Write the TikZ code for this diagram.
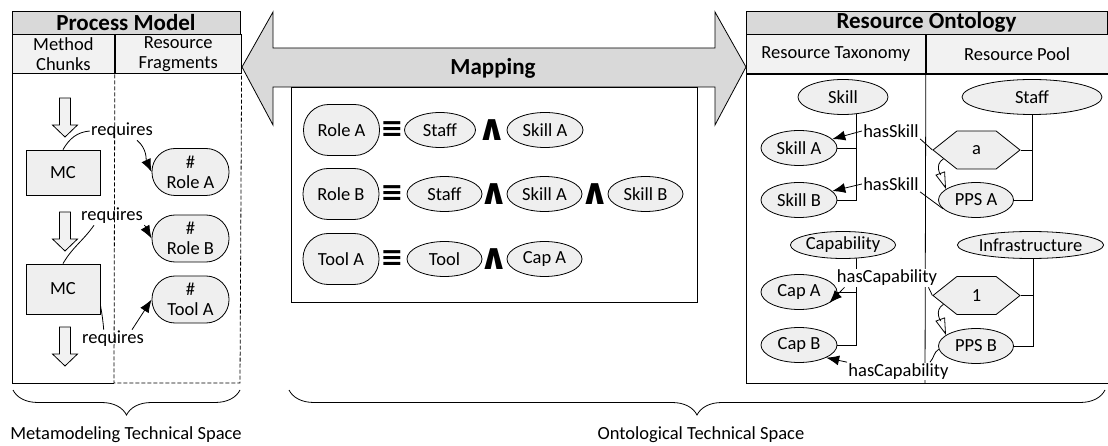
\documentclass[tikz,border=0pt]{standalone}
\usepackage{fontspec}
\setmainfont{Carlito}
\newfontfamily\symfont{DejaVu Sans}
\usetikzlibrary{positioning,shapes.geometric,shapes.symbols,arrows.meta,decorations.pathreplacing,backgrounds}
\definecolor{titlegray}{HTML}{D9D9D9}
\definecolor{paneshade}{HTML}{F2F2F2}
\definecolor{nodeshade}{HTML}{EFEFEF}

\begin{document}
\begin{tikzpicture}[x=1pt,y=1pt,line width=0.8pt,on grid,
  font=\fontsize{18.5}{20}\selectfont,
  titlebar/.style={draw,fill=titlegray,inner sep=0pt,minimum height=23.5pt,font=\fontsize{23}{24}\selectfont\bfseries},
  headcell/.style={draw,fill=paneshade,inner sep=0pt,minimum height=39pt,align=center},
  concept/.style={draw,ellipse,fill=nodeshade,inner sep=0pt,minimum width=76pt,minimum height=35pt},
  fragment/.style={draw,rounded corners=23pt,fill=nodeshade,inner sep=0pt,minimum width=77pt,minimum height=47pt,align=center},
  chunk/.style={draw,fill=nodeshade,inner sep=0pt,minimum width=74pt,minimum height=46pt},
  instance/.style={draw,signal,signal to=west and east,signal pointer angle=77,fill=nodeshade,inner sep=0pt,minimum width=87pt,minimum height=38pt},
  rel/.style={inner sep=1pt},
  relarrow/.style={-{Latex[length=13pt,width=10pt]}},
  instof/.style={-{Triangle[open,length=17pt,width=10pt]}},
  flowarrow/.style={draw,fill=paneshade},
  op/.style={inner sep=0pt,font=\symfont\fontsize{36}{36}\selectfont\bfseries},
  eqop/.style={inner sep=0pt,font=\symfont\fontsize{27}{27}\selectfont\bfseries},
  spacebrace/.style={decorate,decoration={brace,mirror,amplitude=25pt}}
]
\useasboundingbox (0,0) rectangle (1108,-446);

% process model
\node[titlebar,minimum width=228pt] (pmtitle) at (126,-22.75) {Process Model};
\node[headcell,minimum width=102pt,anchor=north west] (mchead) at (12,-34.5) {Method\\Chunks};
\node[headcell,minimum width=126pt,anchor=north west] (rfhead) at (mchead.north east) {Resource\\Fragments};
\draw (mchead.south west) -- (12,-383) -- (114,-383);
\draw[dash pattern=on 4pt off 2pt] (mchead.south east) -- (114,-383) -- (240,-383) -- (rfhead.south east);

\foreach \ytop in {98,212,327}
  \draw[flowarrow] (59.5,-\ytop) -- ++(11,0) -- ++(0,-27) -- ++(7,0) -- ++(-12.5,-12) -- ++(-12.5,12) -- ++(7,0) -- cycle;

\node[chunk,minimum height=45pt] (mc1) at (63,-172.5) {MC};
\node[chunk,minimum height=50pt] (mc2) at (63,-289) {MC};
\node[fragment] (rolea) at (190.5,-172) {\#\\Role A};
\node[fragment] (roleb) at (190.5,-238.5) {\#\\Role B};
\node[fragment] (toola) at (190.5,-299.5) {\#\\Tool A};

\node[rel] (req1) at (122,-131) {requires};
\node[rel] (req2) at (112,-216) {requires};
\node[rel] (req3) at (113,-339) {requires};
\draw (mc1.north) to[out=60,in=185] (req1.west);
\draw[relarrow] ([xshift=15pt]req1.south) to[out=-40,in=115] (rolea.west);
\draw (mc2.north) to[out=60,in=235] ([xshift=-18pt]req2.south);
\draw[relarrow] (req2.south east) to[out=-30,in=120] (roleb.west);
\draw ([yshift=-16pt]mc2.east) to[out=-80,in=95] ([xshift=23pt]req3.north west);
\draw[relarrow] ([xshift=19pt]req3.north) -- (toola.west);

% mapping
\node[draw,minimum width=406pt,minimum height=215pt,inner sep=0pt] (mapbox) at (494,-194.5) {};
\draw[fill=titlegray] (242,-67) -- (273,-12) -- (273,-48) -- (715,-48) -- (715,-12) -- (746,-67)
  -- (715,-125) -- (715,-87) -- (273,-87) -- (273,-125) -- cycle;
\node[font=\fontsize{23}{24}\selectfont\bfseries] (mapping) at (493,-68) {Mapping};

\node[fragment,minimum width=76pt,minimum height=51pt,rounded corners=25pt] (mrolea) at (341.5,-130) {Role A};
\node[eqop,right=50.5pt of mrolea] (eqa) {≡};
\node[concept,minimum width=71pt,right=48pt of eqa] (mstaffa) {Staff};
\node[op,right=52pt of mstaffa] (anda) {∧};
\node[concept,right=53pt of anda] (mskilla) {Skill A};

\node[fragment,minimum width=76pt,minimum height=51pt,rounded corners=25pt] (mroleb) at (341,-194) {Role B};
\node[eqop,right=51pt of mroleb] (eqb) {≡};
\node[concept,minimum width=75pt,right=52.5pt of eqb] (mstaffb) {Staff};
\node[op,right=50pt of mstaffb] (andb) {∧};
\node[concept,minimum width=75pt,right=50pt of andb] (mskillab) {Skill A};
\node[op,right=50.5pt of mskillab] (andc) {∧};
\node[concept,minimum width=75pt,right=50.5pt of andc] (mskillb) {Skill B};

\node[fragment,minimum width=76pt,minimum height=51pt,rounded corners=25pt] (mtoola) at (341,-259) {Tool A};
\node[eqop,right=51pt of mtoola] (eqc) {≡};
\node[concept,minimum width=75pt,right=52.5pt of eqc] (mtool) {Tool};
\node[op,right=50pt of mtool] (andd) {∧};
\node[concept,minimum width=75pt,right=50pt of andd] (mcapa) {Cap A};

% resource ontology
\node[titlebar,minimum width=361pt] (rotitle) at (926.5,-22.75) {Resource Ontology};
\node[headcell,minimum width=179pt,anchor=north west] (rthead) at (746,-34.5) {Resource Taxonomy};
\node[headcell,minimum width=182pt,anchor=north west] (rphead) at (rthead.north east) {Resource Pool};
\draw (rthead.south west) rectangle (rphead.south east |- 0,-383);
\draw (rthead.south east) -- (925,-383);

\node[concept,minimum width=90pt] (skill) at (843,-97) {Skill};
\node[concept,minimum width=140pt] (staff) at (1032,-97) {Staff};
\node[concept] (skilla) at (799,-148) {Skill A};
\node[concept] (skillb) at (799,-200) {Skill B};
\node[instance] (hexa) at (976.5,-150) {a};
\node[concept,minimum width=75pt] (ppsa) at (976,-200) {PPS A};
\node[concept,minimum width=90pt,minimum height=27pt] (capability) at (843,-245) {Capability};
\node[concept,minimum width=145pt,minimum height=27pt] (infra) at (1030.5,-245) {Infrastructure};
\node[concept] (capa) at (799,-292) {Cap A};
\node[concept] (capb) at (799,-345) {Cap B};
\node[instance] (hexone) at (976.5,-295.5) {1};
\node[concept,minimum width=75pt] (ppsb) at (976,-346) {PPS B};

\begin{scope}[on background layer]
  \draw ([xshift=13pt]skill.center) |- (skilla.east);
  \draw ([xshift=13pt]skill.center) |- (skillb.east);
  \draw (staff.center) |- (hexa.east);
  \draw (staff.center) |- (ppsa.east);
  \draw ([xshift=13pt]capability.center) |- (capa.east);
  \draw ([xshift=13pt]capability.center) |- (capb.east);
  \draw ([xshift=2.5pt]infra.center) |- (hexone.east);
  \draw ([xshift=2.5pt]infra.center) |- (ppsb.east);
\end{scope}

\node[rel] (hs1) at (891,-131) {hasSkill};
\node[rel] (hs2) at (891,-184) {hasSkill};
\node[rel,fill=white] (hc1) at (887,-278) {hasCapability};
\node[rel,fill=white] (hc2) at (898.5,-371.5) {hasCapability};
\draw[relarrow] (hs1.west) -- (skilla.15);
\draw (hs1.south east) -- (hexa.west);
\draw[relarrow] (hs2.west) -- (skillb.15);
\draw (hs2.south east) -- (ppsa.195);
\draw[relarrow] ([xshift=9pt]hc1.south west) -- (capa.-20);
\draw ([xshift=-10pt]hc1.south east) -- (hexone.west);
\draw[relarrow] (hc2.north west) -- (capb.-25);
\draw ([xshift=-20pt]hc2.north east) to[out=45,in=210] (ppsb.185);
\draw[instof] (hexa.195) to[out=210,in=110] (ppsa.160);
\draw[instof] (hexone.195) to[out=210,in=110] (ppsb.160);

% technical spaces
\draw[spacebrace] (13,-390) -- (240,-390);
\draw[spacebrace] (289,-390) -- (1105,-390);
\node (mtslabel) at (126,-435) {Metamodeling Technical Space};
\node (otslabel) at (701,-435) {Ontological Technical Space};
\end{tikzpicture}
\end{document}
